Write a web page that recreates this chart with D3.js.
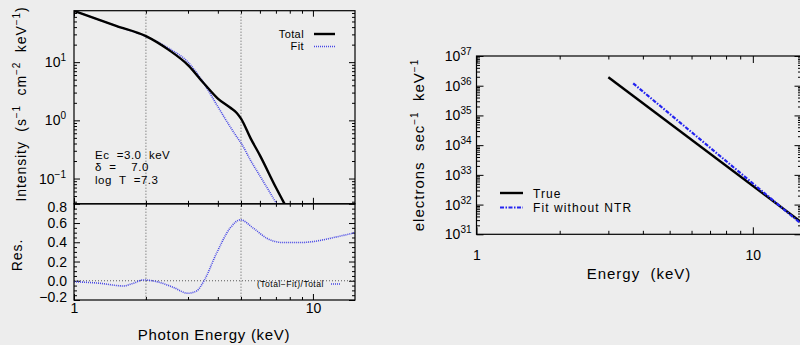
<!DOCTYPE html>
<html>
<head>
<meta charset="utf-8">
<script src="https://cdn.jsdelivr.net/npm/d3@7"></script>
<style>
  body { margin: 0; background: #ededed; }
  svg { display: block; font-family: "Liberation Sans", Arial, sans-serif; }
  .pre { white-space: pre; }
</style>
</head>
<body>
<svg id="chart"></svg>
<script>
// left: photon spectrum
const photonEnergy = [1, 1.5, 2, 2.5, 3, 3.5, 4, 4.5, 4.8, 5, 5.5, 6, 7, 7.6, 8];
const totalFlux = [76, 42, 28, 16.1, 8.9, 4.3, 2.37, 1.66, 1.34, 1.07, 0.48, 0.25, 0.07, 0.037, 0.025];
const fitFlux = [76, 42, 27.7, 17.2, 10.0, 4.3, 1.72, 0.78, 0.52, 0.41, 0.2, 0.111, 0.0386, 0.0215, 0.015];

const resEnergy = [1, 1.28, 1.61, 1.77, 1.95, 2.22, 2.6, 3.0, 3.26, 3.5, 3.95, 4.5, 4.97, 5.63, 6.4, 7.5, 8.8, 10, 12.2, 15];
const resValue = [-0.01, -0.026, -0.054, -0.026, 0.008, -0.009, -0.068, -0.13, -0.106, 0.0, 0.286, 0.547, 0.633, 0.547, 0.443, 0.397, 0.397, 0.407, 0.449, 0.5];

const markerEnergy = [2, 5];

// right: electron spectrum
const trueEnergy = [3.0, 15];
const trueFlux = [1.92e36, 2.5e31];
const ntrEnergy = [3.69, 15];
const ntrFlux = [1.2e36, 2.2e31];

const intensityTicks = [0.1, 1, 10];
const residualTicks = [-0.2, 0, 0.2, 0.4, 0.6, 0.8];
const electronTicks = [1e31, 1e32, 1e33, 1e34, 1e35, 1e36, 1e37];
const energyTicks = [1, 10];

const svg = d3.select('#chart').attr('width', 800).attr('height', 345);
svg.append('rect').attr('width', 800).attr('height', 345).attr('fill', '#ededed');

const xL = d3.scaleLog().domain([1, 15]).range([74, 355]);
const yTop = d3.scaleLog().domain([0.0368, 76.6]).range([203.8, 10.7]);
const yRes = d3.scaleLinear().domain([-0.2, 0.8]).range([300, 203.8]);

const xR = d3.scaleLog().domain([1, 15]).range([476.5, 801.5]);
const yR = d3.scaleLog().domain([1e31, 1e37]).range([234.3, 56]);

function minorLog(lo, hi) {
  const out = [];
  for (let p = Math.floor(Math.log10(lo)); p <= Math.ceil(Math.log10(hi)); p++) {
    for (let k = 2; k <= 9; k++) {
      const v = k * Math.pow(10, p);
      if (v > lo && v < hi) out.push(v);
    }
  }
  return out;
}

function sup(sel) {
  sel.selectAll('.tick text').each(function(d) {
    const t = d3.select(this);
    const e = Math.round(Math.log10(d));
    t.text(null);
    t.append('tspan').text('10');
    t.append('tspan').attr('dy', -6).attr('font-size', 10).text(e < 0 ? '\u2212' + (-e) : e);
  });
}

// draws ticks on a side; size is inward length
function ticks(gen, at, vals, size, pad, fmt) {
  const g = svg.append('g').attr('transform', at)
    .call(gen.tickValues(vals).tickSizeInner(-size).tickSizeOuter(0).tickPadding(pad || 0).tickFormat(fmt || (() => '')));
  g.select('.domain').remove();
  g.attr('font-size', 14).attr('font-family', null);
  g.selectAll('.tick line').attr('stroke-width', 1);
  return g;
}

// ----- left: top panel
const logMinorX = minorLog(1, 15);
ticks(d3.axisTop(xL), 'translate(0,10.7)', energyTicks, 6);
ticks(d3.axisTop(xL), 'translate(0,10.7)', logMinorX, 3);
ticks(d3.axisBottom(xL), 'translate(0,203.8)', energyTicks, 6);
ticks(d3.axisBottom(xL), 'translate(0,203.8)', logMinorX, 3);
ticks(d3.axisLeft(yTop), 'translate(74,0)', intensityTicks, 6, 8, d => d).call(sup);
ticks(d3.axisLeft(yTop), 'translate(74,0)', minorLog(0.0368, 76.6), 3);
ticks(d3.axisRight(yTop), 'translate(355,0)', intensityTicks, 6);
ticks(d3.axisRight(yTop), 'translate(355,0)', minorLog(0.0368, 76.6), 3);

// ----- left: residual panel
const resMinor = d3.range(-0.15, 0.8, 0.05).filter(v => Math.abs(Math.round(v * 10) - v * 10) > 0.1 || Math.round(v * 10) % 2 !== 0);
ticks(d3.axisTop(xL), 'translate(0,203.8)', energyTicks, 6);
ticks(d3.axisTop(xL), 'translate(0,203.8)', logMinorX, 3);
ticks(d3.axisBottom(xL), 'translate(0,300)', energyTicks, 6, 3, d => d);
ticks(d3.axisBottom(xL), 'translate(0,300)', logMinorX, 3);
const resAxis = ticks(d3.axisLeft(yRes), 'translate(74,0)', residualTicks, 6, 7, d3.format('.1f'));
resAxis.selectAll('.tick text').attr('dy', d => d === 0.8 ? '0.55em' : d === -0.2 ? '0.11em' : '0.32em');
ticks(d3.axisLeft(yRes), 'translate(74,0)', resMinor, 3);
ticks(d3.axisRight(yRes), 'translate(355,0)', residualTicks, 6);
ticks(d3.axisRight(yRes), 'translate(355,0)', resMinor, 3);

svg.append('defs').call(d => {
  d.append('clipPath').attr('id', 'clipTop').append('rect').attr('x', 74).attr('y', 10.7).attr('width', 281).attr('height', 193.1);
  d.append('clipPath').attr('id', 'clipRes').append('rect').attr('x', 74).attr('y', 203.8).attr('width', 281).attr('height', 96.2);
  d.append('clipPath').attr('id', 'clipR').append('rect').attr('x', 476.5).attr('y', 56).attr('width', 325).attr('height', 178.3);
});

// dotted guides
svg.selectAll('.vmark').data(markerEnergy).join('line')
  .attr('x1', d => xL(d)).attr('x2', d => xL(d)).attr('y1', 10.7).attr('y2', 300)
  .attr('stroke', '#333').attr('stroke-width', 0.8).attr('stroke-dasharray', '1,2');
svg.append('line').attr('x1', 74).attr('x2', 355).attr('y1', yRes(0)).attr('y2', yRes(0))
  .attr('stroke', '#333').attr('stroke-width', 0.8).attr('stroke-dasharray', '1,2');

const lineTop = d3.line().x(d => xL(d[0])).y(d => yTop(d[1])).curve(d3.curveMonotoneX);
svg.append('path').datum(d3.zip(photonEnergy, fitFlux)).attr('d', lineTop).attr('clip-path', 'url(#clipTop)')
  .attr('fill', 'none').attr('stroke', '#4646e6').attr('stroke-width', 1.6).attr('stroke-dasharray', '1,1');
svg.append('path').datum(d3.zip(photonEnergy, totalFlux)).attr('d', lineTop).attr('clip-path', 'url(#clipTop)')
  .attr('fill', 'none').attr('stroke', '#000').attr('stroke-width', 2.4);

const lineRes = d3.line().x(d => xL(d[0])).y(d => yRes(d[1])).curve(d3.curveMonotoneX);
svg.append('path').datum(d3.zip(resEnergy, resValue)).attr('d', lineRes).attr('clip-path', 'url(#clipRes)')
  .attr('fill', 'none').attr('stroke', '#4646e6').attr('stroke-width', 1.6).attr('stroke-dasharray', '1,1');

// frames
svg.append('rect').attr('x', 74).attr('y', 10.7).attr('width', 281).attr('height', 193.1)
  .attr('fill', 'none').attr('stroke', '#000').attr('stroke-width', 1.2);
svg.append('rect').attr('x', 74).attr('y', 203.8).attr('width', 281).attr('height', 96.2)
  .attr('fill', 'none').attr('stroke', '#000').attr('stroke-width', 1.2);

// legends left
svg.append('text').attr('x', 304).attr('y', 37.5).attr('text-anchor', 'end').attr('font-size', 11).attr('letter-spacing', 0.4).text('Total');
svg.append('text').attr('x', 304).attr('y', 50).attr('text-anchor', 'end').attr('font-size', 11).attr('letter-spacing', 0.4).text('Fit');
svg.append('line').attr('x1', 314).attr('x2', 335).attr('y1', 34).attr('y2', 34).attr('stroke', '#000').attr('stroke-width', 2.4);
svg.append('line').attr('x1', 314).attr('x2', 335).attr('y1', 46.5).attr('y2', 46.5)
  .attr('stroke', '#4646e6').attr('stroke-width', 1.6).attr('stroke-dasharray', '1,1');
svg.append('text').attr('x', 257).attr('y', 287).attr('font-size', 8.5).attr('letter-spacing', 0.5).text('(Total\u2212Fit)/Total');
svg.append('line').attr('x1', 331).attr('x2', 341).attr('y1', 284).attr('y2', 284)
  .attr('stroke', '#4646e6').attr('stroke-width', 1.6).attr('stroke-dasharray', '1,1');

const notes = ['Ec  =3.0  keV', '\u03b4  =    7.0', 'log  T  =7.3'];
svg.selectAll('.note').data(notes).join('text').attr('class', 'pre')
  .attr('x', 95).attr('y', (d, i) => 158.5 + i * 12.8).attr('font-size', 11.5).attr('letter-spacing', 0.5).text(d => d);

// axis titles left
const yt = svg.append('text').attr('transform', 'translate(26,104) rotate(-90)').attr('text-anchor', 'middle')
  .attr('font-size', 14).attr('letter-spacing', 0.9).attr('class', 'pre');
yt.append('tspan').text('Intensity  (s');
yt.append('tspan').attr('dy', -6).attr('font-size', 10).text('\u22121');
yt.append('tspan').attr('dy', 6).text('  cm');
yt.append('tspan').attr('dy', -6).attr('font-size', 10).text('\u22122');
yt.append('tspan').attr('dy', 6).text('  keV');
yt.append('tspan').attr('dy', -6).attr('font-size', 10).text('\u22121');
yt.append('tspan').attr('dy', 6).text(')');
svg.append('text').attr('transform', 'translate(22,255) rotate(-90)').attr('text-anchor', 'middle')
  .attr('font-size', 14).attr('letter-spacing', 0.9).text('Res.');
svg.append('text').attr('x', 214).attr('y', 340).attr('text-anchor', 'middle').attr('font-size', 15)
  .attr('letter-spacing', 0.7).text('Photon Energy (keV)');

// ----- right chart
const minorXR = minorLog(1, 15);
const minorYR = minorLog(1e31, 1e37);
ticks(d3.axisBottom(xR), 'translate(0,234.3)', energyTicks, 7, 16, d => d);
ticks(d3.axisBottom(xR), 'translate(0,234.3)', minorXR, 3.5);
ticks(d3.axisTop(xR), 'translate(0,56)', energyTicks, 7);
ticks(d3.axisTop(xR), 'translate(0,56)', minorXR, 3.5);
ticks(d3.axisLeft(yR), 'translate(476.5,0)', electronTicks, 7, 5, d => d).call(sup);
ticks(d3.axisLeft(yR), 'translate(476.5,0)', minorYR, 3.5);
ticks(d3.axisRight(yR), 'translate(801.5,0)', electronTicks, 7);
ticks(d3.axisRight(yR), 'translate(801.5,0)', minorYR, 3.5);

const lineR = d3.line().x(d => xR(d[0])).y(d => yR(d[1]));
svg.append('path').datum(d3.zip(trueEnergy, trueFlux)).attr('d', lineR).attr('clip-path', 'url(#clipR)')
  .attr('fill', 'none').attr('stroke', '#000').attr('stroke-width', 2.4);
svg.append('path').datum(d3.zip(ntrEnergy, ntrFlux)).attr('d', lineR).attr('clip-path', 'url(#clipR)')
  .attr('fill', 'none').attr('stroke', '#2323f0').attr('stroke-width', 2.2).attr('stroke-dasharray', '4,1.5,1.5,1.5');

svg.append('rect').attr('x', 476.5).attr('y', 56).attr('width', 325).attr('height', 178.3)
  .attr('fill', 'none').attr('stroke', '#000').attr('stroke-width', 1.2);

svg.append('line').attr('x1', 500).attr('x2', 523).attr('y1', 193).attr('y2', 193).attr('stroke', '#000').attr('stroke-width', 2.4);
svg.append('line').attr('x1', 500).attr('x2', 523).attr('y1', 207.5).attr('y2', 207.5)
  .attr('stroke', '#2323f0').attr('stroke-width', 2.2).attr('stroke-dasharray', '4,1.5,1.5,1.5');
svg.append('text').attr('x', 533).attr('y', 197.5).attr('font-size', 12).attr('letter-spacing', 1.1).text('True');
svg.append('text').attr('x', 533).attr('y', 211.5).attr('font-size', 12).attr('letter-spacing', 1.1).attr('class', 'pre').text('Fit without NTR');

const yr = svg.append('text').attr('transform', 'translate(424,145) rotate(-90)').attr('text-anchor', 'middle')
  .attr('font-size', 15).attr('letter-spacing', 1).attr('class', 'pre');
yr.append('tspan').text('electrons  sec');
yr.append('tspan').attr('dy', -6).attr('font-size', 10).text('\u22121');
yr.append('tspan').attr('dy', 6).text('  keV');
yr.append('tspan').attr('dy', -6).attr('font-size', 10).text('\u22121');
svg.append('text').attr('x', 639).attr('y', 279).attr('text-anchor', 'middle').attr('font-size', 15)
  .attr('letter-spacing', 1).attr('class', 'pre').text('Energy  (keV)');
</script>
</body>
</html>
